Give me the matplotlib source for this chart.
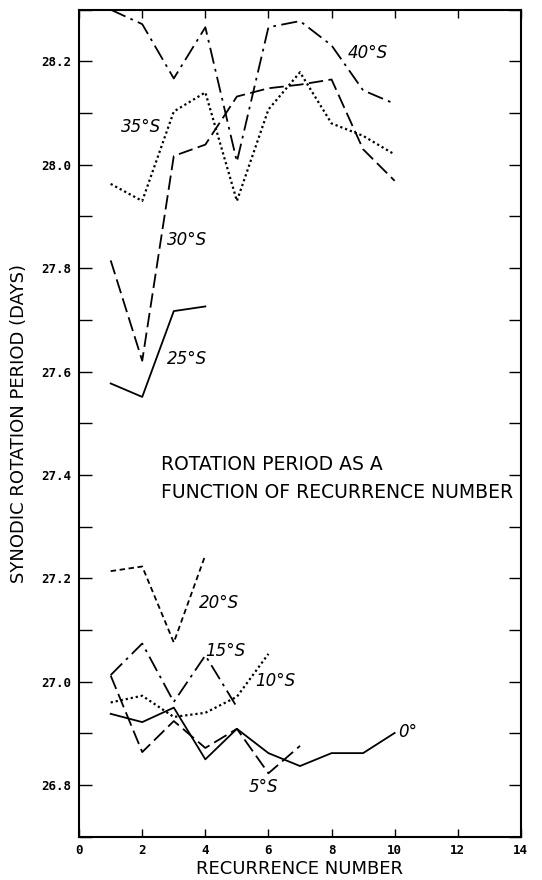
import matplotlib
matplotlib.use("Agg")
import matplotlib.pyplot as plt
from matplotlib.ticker import MultipleLocator

# recurrence number vs synodic rotation period (days)
rec_40 = [1, 2, 3, 4, 5, 6, 7, 8, 9, 10]
per_40 = [28.30, 28.272, 28.167, 28.266, 28.006, 28.266, 28.278, 28.231, 28.144, 28.118]

rec_35 = [1, 2, 3, 4, 5, 6, 7, 8, 9, 10]
per_35 = [27.963, 27.93, 28.103, 28.14, 27.93, 28.107, 28.179, 28.08, 28.056, 28.02]

rec_30 = [1, 2, 3, 4, 5, 6, 7, 8, 9, 10]
per_30 = [27.815, 27.621, 28.017, 28.039, 28.132, 28.148, 28.155, 28.165, 28.03, 27.969]

rec_25 = [1, 2, 3, 4]
per_25 = [27.577, 27.551, 27.717, 27.726]

rec_20 = [1, 2, 3, 4]
per_20 = [27.214, 27.223, 27.076, 27.245]

rec_15 = [1, 2, 3, 4, 5]
per_15 = [27.013, 27.074, 26.961, 27.051, 26.951]

rec_10 = [1, 2, 3, 4, 5, 6]
per_10 = [26.96, 26.973, 26.932, 26.94, 26.971, 27.054]

rec_5 = [1, 2, 3, 4, 5, 6, 7]
per_5 = [27.012, 26.864, 26.924, 26.872, 26.909, 26.823, 26.876]

rec_0 = [1, 2, 3, 4, 5, 6, 7, 8, 9, 10]
per_0 = [26.938, 26.922, 26.95, 26.85, 26.909, 26.862, 26.837, 26.862, 26.862, 26.901]

dashdot = (0, (9, 3, 1.5, 3))
longdash = (0, (8, 3))
shortdash = (0, (3, 2))
dotted = (0, (1, 1.3))

fig = plt.figure(figsize=(5.42, 8.8), dpi=100)
ax = fig.add_axes([0.146, 0.049, 0.815, 0.94])

lw = 1.3
ax.plot(rec_40, per_40, color="black", lw=lw, ls=dashdot)
ax.plot(rec_35, per_35, color="black", lw=lw + 0.3, ls=dotted)
ax.plot(rec_30, per_30, color="black", lw=lw, ls=longdash)
ax.plot(rec_25, per_25, color="black", lw=lw, ls="-")
ax.plot(rec_20, per_20, color="black", lw=lw, ls=shortdash)
ax.plot(rec_15, per_15, color="black", lw=lw, ls=dashdot)
ax.plot(rec_10, per_10, color="black", lw=lw + 0.3, ls=dotted)
ax.plot(rec_5, per_5, color="black", lw=lw, ls=longdash)
ax.plot(rec_0, per_0, color="black", lw=lw, ls="-")

lab = dict(fontsize=12, style="italic", ha="left", va="center", family="DejaVu Sans")
ax.text(8.5, 28.217, "40°S", **lab)
ax.text(1.32, 28.074, "35°S", **lab)
ax.text(2.78, 27.854, "30°S", **lab)
ax.text(2.78, 27.625, "25°S", **lab)
ax.text(3.79, 27.153, "20°S", **lab)
ax.text(4.0, 27.06, "15°S", **lab)
ax.text(5.58, 27.002, "10°S", **lab)
ax.text(5.36, 26.796, "5°S", **lab)
ax.text(10.1, 26.903, "0°", **lab)

ax.text(2.6, 27.42, "ROTATION PERIOD AS A", fontsize=13.5, ha="left", va="center")
ax.text(2.6, 27.366, "FUNCTION OF RECURRENCE NUMBER", fontsize=13.5, ha="left", va="center")

ax.set_xlim(0, 14)
ax.set_ylim(26.7, 28.3)
ax.xaxis.set_major_locator(MultipleLocator(2))
ax.yaxis.set_minor_locator(MultipleLocator(0.1))
ax.set_yticks([26.8, 27.0, 27.2, 27.4, 27.6, 27.8, 28.0, 28.2])
ax.set_yticklabels(["26.8", "27.0", "27.2", "27.4", "27.6", "27.8", "28.0", "28.2"])

ax.tick_params(axis="both", which="both", direction="in", top=True, right=True, width=1)
ax.tick_params(axis="y", which="both", length=9, pad=6)
ax.tick_params(axis="x", which="major", length=6, pad=5)
for t in ax.get_xticklabels() + ax.get_yticklabels():
    t.set_family("DejaVu Sans Mono")
    t.set_fontsize(9)
    t.set_weight("bold")

for s in ax.spines.values():
    s.set_linewidth(1.5)

ax.set_xlabel("RECURRENCE NUMBER", fontsize=13, labelpad=2)
ax.set_ylabel("SYNODIC ROTATION PERIOD (DAYS)", fontsize=13, labelpad=9)

fig.savefig("out.png", dpi=100)
